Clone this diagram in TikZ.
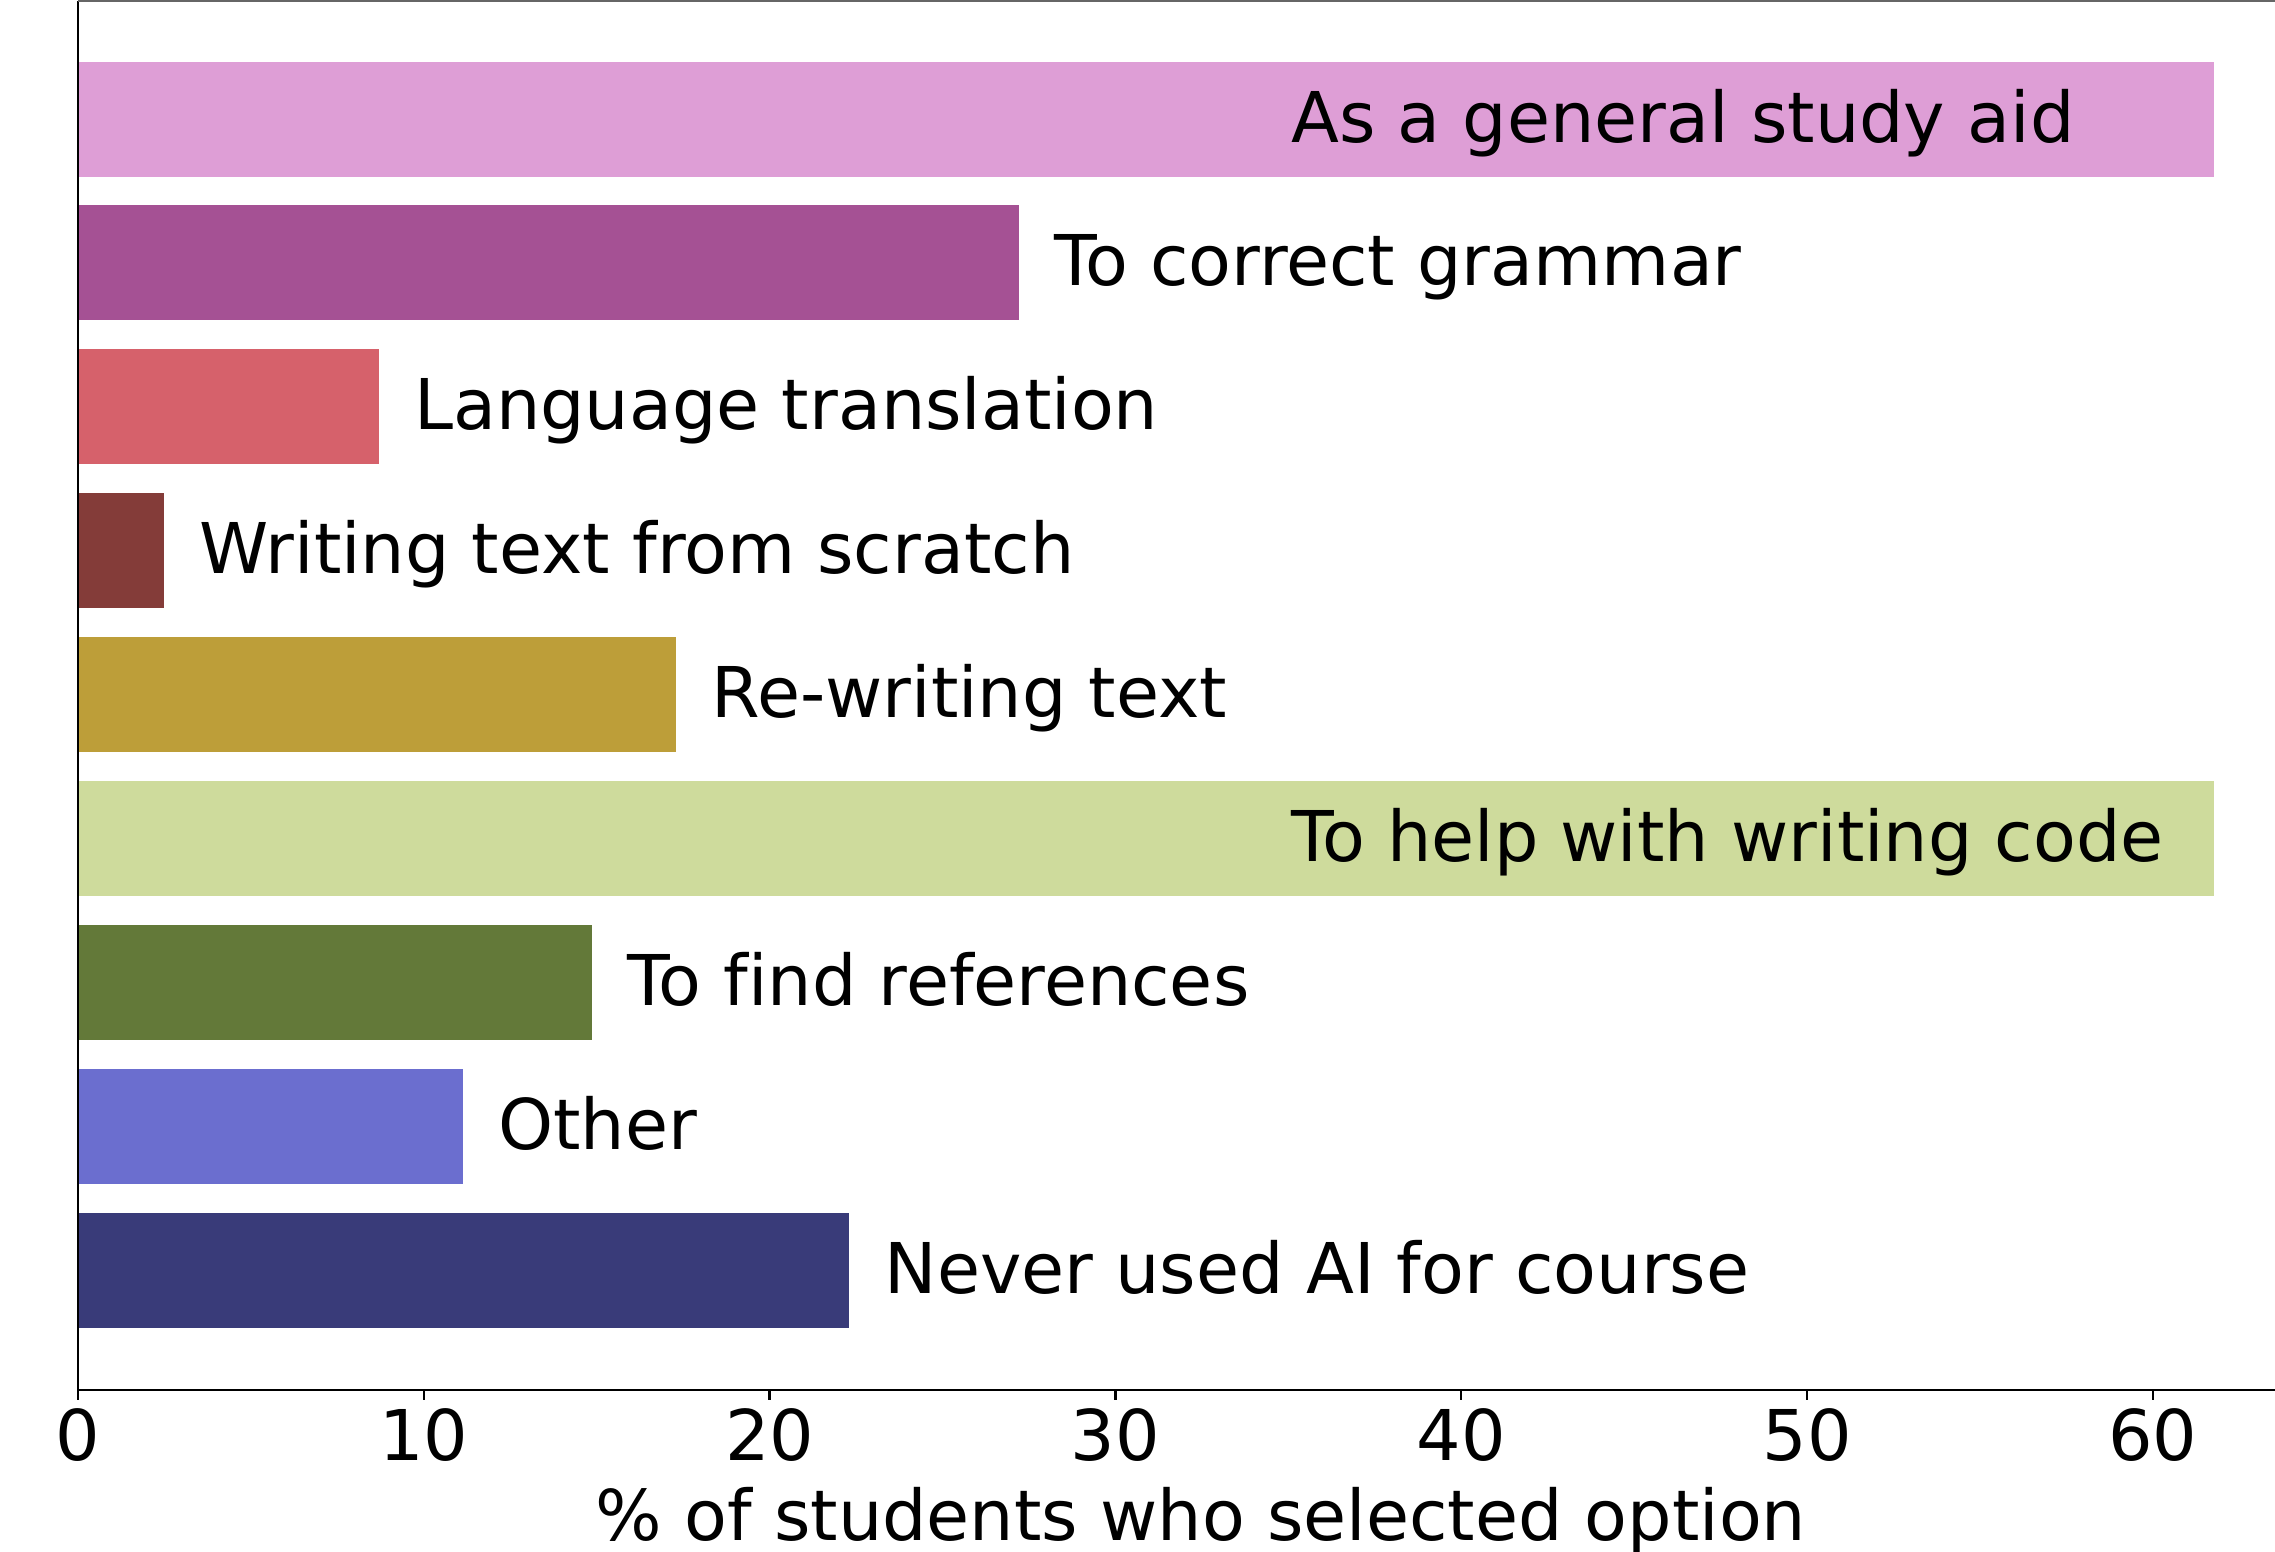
\documentclass[tikz,border=0pt]{standalone}
\usepackage{fontspec}
\setmainfont[Ligatures=NoCommon]{DejaVu Sans}
\definecolor{cA}{HTML}{DE9ED6}
\definecolor{cB}{HTML}{A55194}
\definecolor{cC}{HTML}{D6616B}
\definecolor{cD}{HTML}{843C39}
\definecolor{cE}{HTML}{BD9E39}
\definecolor{cF}{HTML}{CEDB9C}
\definecolor{cG}{HTML}{637939}
\definecolor{cH}{HTML}{6B6ECF}
\definecolor{cI}{HTML}{393B79}
\tikzset{
  barlabel/.style={anchor=base west, inner sep=0pt, font=\fontsize{70}{84}\selectfont},
  ticklabel/.style={anchor=base, inner sep=0pt, font=\fontsize{70}{84}\selectfont},
  spine/.style={line width=2.3pt, black},
  tickmark/.style={line width=2.3pt, black}
}
% #1 name, #2 row index, #3 value, #4 colour, #5 label x, #6 text
\newcommand{\hbarrow}[6]{%
  \pgfmathsetmacro{\yc}{119+#2*143.9}%
  \pgfmathsetmacro{\xe}{78+#3*34.58}%
  \fill[#4] (78,\yc-57.5) rectangle (\xe,\yc+57.5);
  \coordinate (#1end) at (\xe,\yc);
  \node[barlabel] (#1) at (#5,\yc+23) {#6};
}
\begin{document}
\begin{tikzpicture}[x=1pt,y=-1pt]
\useasboundingbox[fill=white] (0,0) rectangle (2275,1551);
\hbarrow{ra}{0}{61.77}{cA}{1291}{As a general study aid}
\hbarrow{rb}{1}{27.20}{cB}{1054}{To correct grammar}
\hbarrow{rc}{2}{8.69}{cC}{414}{Language translation}
\hbarrow{rd}{3}{2.49}{cD}{199.5}{Writing text from scratch}
\hbarrow{re}{4}{17.30}{cE}{711.5}{Re-writing text}
\hbarrow{rf}{5}{61.77}{cF}{1291}{To help with writing code}
\hbarrow{rg}{6}{14.86}{cG}{627.5}{To find references}
\hbarrow{rh}{7}{11.13}{cH}{498}{Other}
\hbarrow{ri}{8}{22.29}{cI}{884.5}{Never used AI for course}
% spines
\coordinate (tl) at (78,1);
\coordinate (bl) at (78,1390);
\coordinate (br) at (2275,1390);
\coordinate (tr) at (2275,1);
\draw[spine] (tl) -- (bl) -- (br);
\draw[line width=1.6pt, black!60] (tl) -- (tr);
% ticks
\foreach \v in {0,10,20,30,40,50,60}{
  \pgfmathsetmacro{\xt}{78+\v*34.58}
  \coordinate (t\v) at (\xt,1390);
  \coordinate (u\v) at (\xt,1400);
  \draw[tickmark] (t\v) -- (u\v);
  \node[ticklabel] (lab\v) at (\xt,1460) {\v};
}
\node[ticklabel] (xlabel) at (1201,1540) {\% of students who selected option};
\end{tikzpicture}
\end{document}
